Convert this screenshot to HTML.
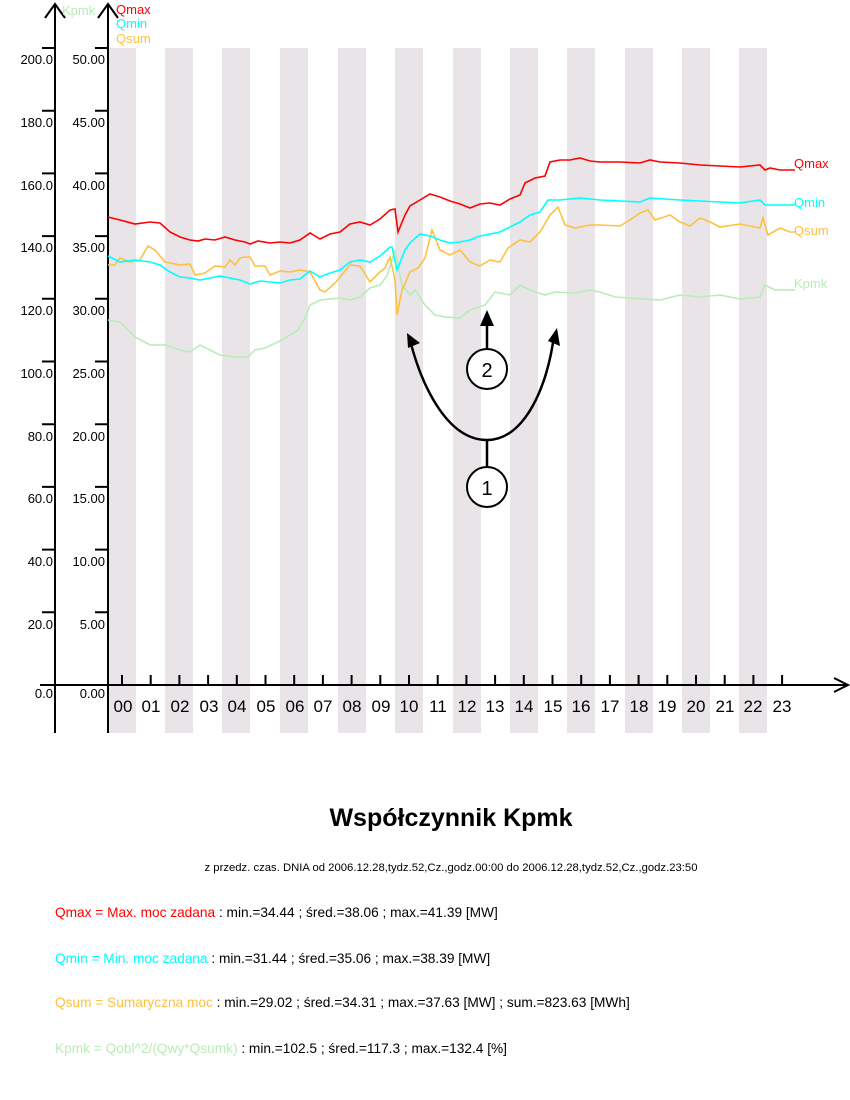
<!DOCTYPE html>
<html><head><meta charset="utf-8"><style>
body{margin:0;background:#fff;}
svg{display:block;font-family:"Liberation Sans",sans-serif;}
</style></head><body>
<svg width="850" height="1100" viewBox="0 0 850 1100" xmlns="http://www.w3.org/2000/svg">
<g fill="#e8e4e8">
<rect x="108" y="48" width="28" height="685"/><rect x="165" y="48" width="28" height="685"/>
<rect x="222" y="48" width="28" height="685"/><rect x="280" y="48" width="28" height="685"/>
<rect x="338" y="48" width="28" height="685"/><rect x="395" y="48" width="28" height="685"/>
<rect x="453" y="48" width="28" height="685"/><rect x="510" y="48" width="28" height="685"/>
<rect x="567" y="48" width="28" height="685"/><rect x="625" y="48" width="28" height="685"/>
<rect x="682" y="48" width="28" height="685"/><rect x="739" y="48" width="28" height="685"/>
</g>
<g stroke="#000" stroke-width="2" fill="none">
<line x1="55" y1="4" x2="55" y2="733"/><line x1="108" y1="4" x2="108" y2="733"/>
<polyline points="45,18 55,4 65,18"/><polyline points="98,18 108,4 118,18"/>
<line x1="40" y1="685" x2="848" y2="685"/><polyline points="834,678 848,685 834,692"/>
<path d="M42 48H55M42 110.7H55M42 173.4H55M42 236.1H55M42 298.8H55M42 361.5H55M42 424.2H55M42 486.9H55M42 549.6H55M42 612.3H55M95 48H108M95 110.7H108M95 173.4H108M95 236.1H108M95 298.8H108M95 361.5H108M95 424.2H108M95 486.9H108M95 549.6H108M95 612.3H108"/>
<path d="M122 675V685M150.7 675V685M179.4 675V685M208.1 675V685M236.8 675V685M265.5 675V685M294.2 675V685M322.9 675V685M351.6 675V685M380.3 675V685M409 675V685M437.7 675V685M466.4 675V685M495.1 675V685M523.8 675V685M552.5 675V685M581.2 675V685M609.9 675V685M638.6 675V685M667.3 675V685M696 675V685M724.7 675V685M753.4 675V685M782.1 675V685"/>
</g>
<g font-size="13" text-anchor="end" fill="#000">
<text x="53" y="64">200.0</text><text x="53" y="127">180.0</text><text x="53" y="190">160.0</text><text x="53" y="252">140.0</text><text x="53" y="315">120.0</text><text x="53" y="378">100.0</text><text x="53" y="441">80.0</text><text x="53" y="503">60.0</text><text x="53" y="566">40.0</text><text x="53" y="629">20.0</text><text x="53" y="698">0.0</text>
<text x="105" y="64">50.00</text><text x="105" y="127">45.00</text><text x="105" y="190">40.00</text><text x="105" y="252">35.00</text><text x="105" y="315">30.00</text><text x="105" y="378">25.00</text><text x="105" y="441">20.00</text><text x="105" y="503">15.00</text><text x="105" y="566">10.00</text><text x="105" y="629">5.00</text><text x="105" y="698">0.00</text>
</g>
<g font-size="17" text-anchor="middle" fill="#000">
<text x="123" y="712">00</text><text x="151" y="712">01</text><text x="180" y="712">02</text><text x="209" y="712">03</text><text x="237" y="712">04</text><text x="266" y="712">05</text><text x="295" y="712">06</text><text x="323" y="712">07</text><text x="352" y="712">08</text><text x="381" y="712">09</text><text x="409" y="712">10</text><text x="438" y="712">11</text><text x="467" y="712">12</text><text x="495" y="712">13</text><text x="524" y="712">14</text><text x="553" y="712">15</text><text x="581" y="712">16</text><text x="610" y="712">17</text><text x="639" y="712">18</text><text x="667" y="712">19</text><text x="696" y="712">20</text><text x="725" y="712">21</text><text x="753" y="712">22</text><text x="782" y="712">23</text>
</g>
<g font-size="13">
<text x="62" y="15" fill="#b8ecb8">Kpmk</text>
<text x="116" y="14" fill="#ff0000">Qmax</text>
<text x="116" y="28" fill="#00ffff">Qmin</text>
<text x="116" y="43" fill="#ffc040">Qsum</text>
<text x="794" y="168" fill="#ff0000">Qmax</text>
<text x="794" y="207" fill="#00ffff">Qmin</text>
<text x="794" y="235" fill="#ffc040">Qsum</text>
<text x="794" y="288" fill="#b8ecb8">Kpmk</text>
</g>
<g fill="none" stroke-width="1.6">
<polyline stroke="#b8ecb8" points="108,320 120,322 135,337 150,345 165,345 180,350 190,352 200,345 210,350 220,355 235,357 248,357 255,350 265,348 280,341 298,330 305,318 310,305 320,300 340,298 350,300 360,297 370,288 380,285 387,276 395,250 402,285 410,295 415,290 425,305 435,315 445,317 460,318 470,310 485,305 495,292 510,295 520,285 530,290 545,295 555,292 575,293 590,290 600,292 615,297 630,298 660,300 680,295 700,297 720,295 740,299 760,297 765,285 775,290 795,290"/>
<polyline stroke="#ffc040" points="108,265 115,265 120,258 130,262 140,260 148,246 155,250 165,262 180,265 190,264 195,275 205,273 215,266 225,267 230,260 235,265 240,258 245,257 250,257 255,266 265,266 270,275 280,271 290,272 300,270 310,272 320,290 325,292 335,283 350,265 360,266 370,282 380,272 385,268 390,257 395,280 397,315 402,290 410,272 418,268 425,258 432,230 440,250 450,255 460,250 470,262 480,266 490,260 500,262 508,248 520,240 530,242 540,232 550,215 558,207 565,225 575,228 590,225 600,225 620,226 630,220 640,213 648,210 655,220 670,215 680,222 690,226 700,218 710,222 720,227 740,224 760,228 763,218 768,235 780,228 790,232 795,232"/>
<polyline stroke="#00ffff" points="108,256 120,262 135,260 150,262 160,265 170,272 180,277 190,278 200,280 210,278 220,276 230,278 240,280 250,284 260,281 270,282 280,283 290,280 300,279 310,271 320,277 330,273 340,270 350,262 360,260 370,262 380,256 390,247 392,247 397,270 405,250 410,243 420,234 430,236 440,240 450,243 460,242 470,240 480,236 500,232 520,222 530,215 540,212 548,200 560,200 580,198 600,200 640,202 650,198 680,200 720,202 740,203 760,200 765,205 795,205"/>
<polyline stroke="#ff0000" points="108,217 120,220 135,224 150,222 160,223 170,232 180,237 190,240 198,241 205,239 215,240 225,237 235,240 245,242 250,244 258,241 270,243 280,242 290,243 300,240 310,233 320,239 330,234 340,232 350,224 360,222 370,225 380,219 390,210 395,209 398,232 405,215 410,206 420,200 430,194 440,197 450,201 460,204 470,208 480,204 490,203 500,205 510,199 520,195 525,183 535,178 545,176 550,162 560,160 570,160 580,158 590,161 600,162 620,162 640,163 650,160 660,162 680,163 700,165 720,166 740,167 760,165 765,170 770,168 780,170 795,170"/>
</g>
<g stroke="#000" stroke-width="2.5" fill="none">
<line x1="487" y1="467" x2="487" y2="440"/>
<path d="M487 440 C445 440 420 380 410 340"/>
<path d="M487 440 C525 440 548 385 554 335"/>
<line x1="487" y1="349" x2="487" y2="318"/>
<circle cx="487" cy="487" r="20" fill="#fff" stroke-width="2"/>
<circle cx="487" cy="369" r="20" fill="#fff" stroke-width="2"/>
</g>
<g fill="#000">
<polygon points="407,333 420,343 408,348"/>
<polygon points="557,328 560,346 548,341"/>
<polygon points="487,310 480,326 494,326"/>
</g>
<g font-size="20" text-anchor="middle" fill="#000">
<text x="487" y="495">1</text><text x="487" y="377">2</text>
</g>
<text x="451" y="826" font-size="25" font-weight="bold" text-anchor="middle">Współczynnik Kpmk</text>
<text x="451" y="871" font-size="11.3" text-anchor="middle">z przedz. czas. DNIA od 2006.12.28,tydz.52,Cz.,godz.00:00 do 2006.12.28,tydz.52,Cz.,godz.23:50</text>
<g font-size="13.7">
<text x="55" y="917"><tspan fill="#ff0000">Qmax = Max. moc zadana</tspan> : min.=34.44 ; śred.=38.06 ; max.=41.39 [MW]</text>
<text x="55" y="963"><tspan fill="#00ffff">Qmin = Min. moc zadana</tspan> : min.=31.44 ; śred.=35.06 ; max.=38.39 [MW]</text>
<text x="55" y="1007"><tspan fill="#ffc040">Qsum = Sumaryczna moc</tspan> : min.=29.02 ; śred.=34.31 ; max.=37.63 [MW] ; sum.=823.63 [MWh]</text>
<text x="55" y="1053"><tspan fill="#b8ecb8">Kpmk = Qobl^2/(Qwy*Qsumk)</tspan> : min.=102.5 ; śred.=117.3 ; max.=132.4 [%]</text>
</g>
</svg>
</body></html>
